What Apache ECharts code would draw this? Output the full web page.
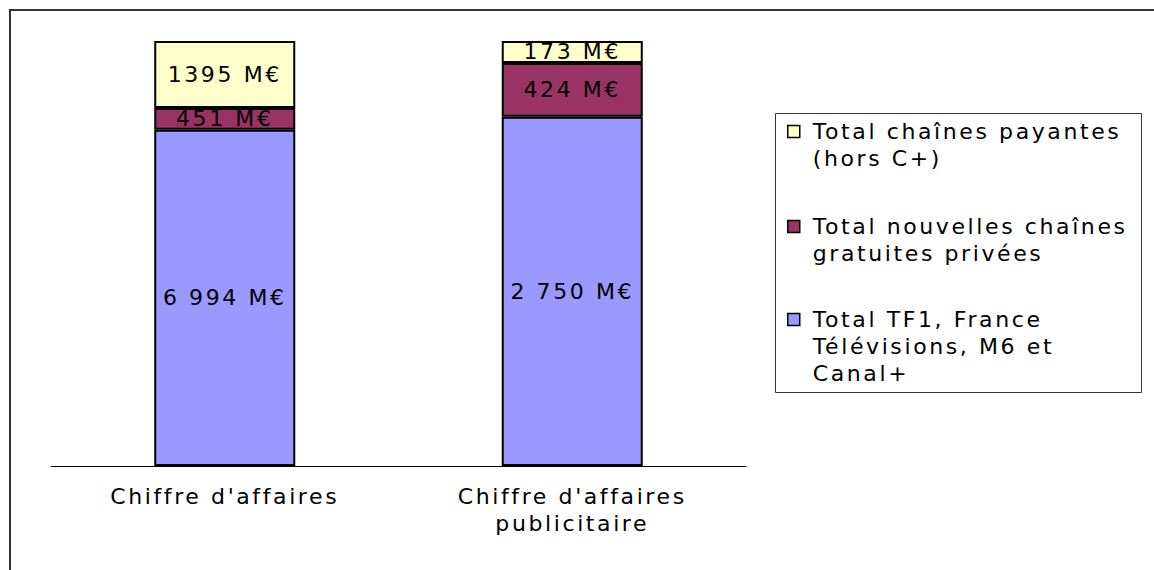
<!DOCTYPE html>
<html>
<head>
<meta charset="utf-8">
<script src="https://cdn.jsdelivr.net/npm/echarts@6/dist/echarts.min.js"></script>
<style>
  html, body { margin: 0; padding: 0; background: #fff; }
  #chart { width: 1154px; height: 570px; }
  /* le texte d'origine est très large : on l'imite avec un espacement */
  #chart text { letter-spacing: 2.6px; }
</style>
</head>
<body>
<div id="chart"></div>
<script>
// catégories (axe X)
const categories = ["Chiffre d'affaires", "Chiffre d'affaires\npublicitaire"]

// séries, du bas vers le haut de la pile
const seriesNames = [
  'Total TF1, France Télévisions, M6 et Canal+',
  'Total nouvelles chaînes gratuites privées',
  'Total chaînes payantes (hors C+)'
]
const majorValues = [6994, 2750]     // TF1, FTV, M6, Canal+
const newFreeValues = [451, 424]     // nouvelles chaînes gratuites
const payValues = [1395, 173]        // chaînes payantes

// étiquettes affichées dans les barres
const majorLabels = ['6 994 M€', '2 750 M€']
const newFreeLabels = ['451 M€', '424 M€']
const payLabels = ['1395 M€', '173 M€']

// texte de la légende (retours à la ligne)
const legendLines = [
  ['Total TF1, France', 'Télévisions, M6 et', 'Canal+'],
  ['Total nouvelles chaînes', 'gratuites privées'],
  ['Total chaînes payantes', '(hors C+)']
]

const colors = ['#9999FF', '#993366', '#FFFFCC']
const font = '"DejaVu Sans", sans-serif'

const chart = echarts.init(document.getElementById('chart'), null, { renderer: 'svg' })

// barres à 100 % : chaque valeur en part du total de la catégorie
const totals = categories.map((c, i) => majorValues[i] + newFreeValues[i] + payValues[i])
const share = (arr) => arr.map((v, i) => v / totals[i] * 100)

const allValues = [majorValues, newFreeValues, payValues]
const allLabels = [majorLabels, newFreeLabels, payLabels]

const series = seriesNames.map((name, s) => ({
  name: name,
  type: 'bar',
  stack: 'total',
  barWidth: 141,
  data: share(allValues[s]),
  itemStyle: {
    color: colors[s],
    borderColor: '#000',
    borderWidth: 2
  },
  label: {
    show: true,
    position: 'inside',
    color: '#000',
    fontSize: 22,
    fontFamily: font,
    formatter: (p) => allLabels[s][p.dataIndex]
  },
  emphasis: { disabled: true }
}))

// le carré de légende est centré sur le bloc de texte : on ajoute des
// lignes vides au-dessus pour qu'il tombe en face de la première ligne
const legendText = (lines) => {
  const blanks = new Array(lines.length - 1).fill(' ')
  return blanks.concat(lines).join('\n')
}

// une légende par entrée, pour placer chaque bloc comme dans l'original
const legendTops = [91, 186, 252]
const legendOrder = [2, 1, 0]
const legends = legendOrder.map((s, k) => ({
  data: [seriesNames[s]],
  left: 787,
  top: legendTops[k],
  orient: 'vertical',
  padding: 0,
  icon: 'rect',
  itemWidth: 12,
  itemHeight: 12,
  selectedMode: false,
  itemStyle: { borderColor: '#000', borderWidth: 1.5 },
  formatter: () => legendText(legendLines[s]),
  textStyle: {
    color: '#000',
    fontSize: 22,
    fontFamily: font,
    lineHeight: 27,
    backgroundColor: 'rgba(0,0,0,0)',
    padding: [0, 0, 0, 8]
  }
}))

const option = {
  animation: false,
  backgroundColor: '#fff',
  grid: { left: 51, right: 408, top: 41, bottom: 104 },
  xAxis: {
    type: 'category',
    data: categories,
    axisLine: { lineStyle: { color: '#000', width: 1 } },
    axisTick: { length: 6, lineStyle: { color: '#000' } },
    axisLabel: {
      color: '#000',
      fontSize: 22,
      fontFamily: font,
      lineHeight: 27,
      margin: 17
    }
  },
  yAxis: { type: 'value', min: 0, max: 100, show: false },
  legend: legends,
  graphic: [
    {
      type: 'rect',
      silent: true,
      shape: { x: 10, y: 10, width: 1300, height: 700 },
      style: { fill: 'none', stroke: '#333', lineWidth: 2 }
    },
    {
      type: 'rect',
      silent: true,
      shape: { x: 775.5, y: 113.5, width: 366, height: 279 },
      style: { fill: 'none', stroke: '#333', lineWidth: 1 }
    }
  ],
  series: series
}

chart.setOption(option)
window.addEventListener('resize', () => chart.resize())
</script>
</body>
</html>
